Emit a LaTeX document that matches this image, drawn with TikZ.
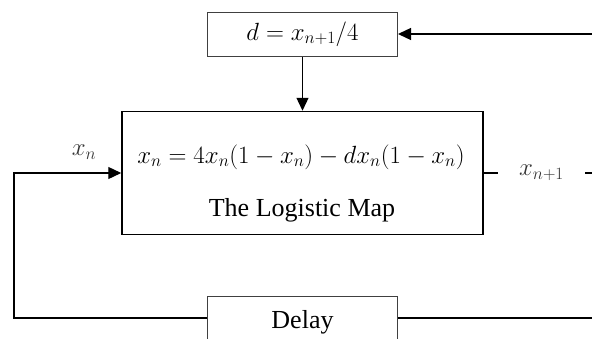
\documentclass[tikz,border=0pt]{standalone}
\usepackage{fontspec}
\setmainfont{Liberation Serif}
\usetikzlibrary{arrows.meta}
\tikzset{
  thinbox/.style={draw=black!75, line width=1pt, inner sep=0pt, minimum width=190pt, minimum height=44pt},
  mainbox/.style={draw=black, line width=1.5pt, inner sep=0pt, minimum width=361pt, minimum height=123pt},
  wire/.style={draw=black, line width=1.3pt},
  arr/.style={wire, -{Triangle[length=13pt,width=12pt]}},
  mathlbl/.style={inner sep=0pt, font=\fontsize{24}{28}\selectfont, text=black!80},
  txt/.style={inner sep=0pt, font=\fontsize{26}{30}\selectfont}
}
\begin{document}
\begin{tikzpicture}[x=1pt,y=-1pt]
\useasboundingbox (0,0) rectangle (592,338);
\node[thinbox, font=\fontsize{24}{28}\selectfont] (dbox) at (302.5,34) {$d = x_{n+1}/4$};
\node[mainbox] (map) at (302.5,173) {};
\node[mathlbl, text=black] (eq) at (301,157) {$x_n = 4x_n(1-x_n) - dx_n(1-x_n)$};
\node[txt] (title) at (302,210) {The Logistic Map};
\node[thinbox, txt, draw=black!75, inner sep=0pt, text depth=0pt] (delay) at (302.5,318) {\raisebox{-3pt}{Delay}};
\node[mathlbl, minimum width=87pt] (xnp1) at (541.5,173) {$x_{n+1}$};
\node[mathlbl] (xn) at (84,152) {$x_n$};
\coordinate (rtop) at (592,34);
\coordinate (rmid) at (592,173);
\coordinate (rbot) at (592,318);
\coordinate (lc) at (14,318);
\draw[arr] (rtop) -- (dbox.east);
\draw[arr] (dbox.south) -- (map.north);
\draw[wire] (map.east) -- (map.east -| xnp1.west);
\draw[wire] (map.east -| xnp1.east) -- (rmid);
\draw[arr] (delay.west) -- (lc) |- (map.west);
\draw[wire] (delay.east) -- (rbot);
\end{tikzpicture}
\end{document}
